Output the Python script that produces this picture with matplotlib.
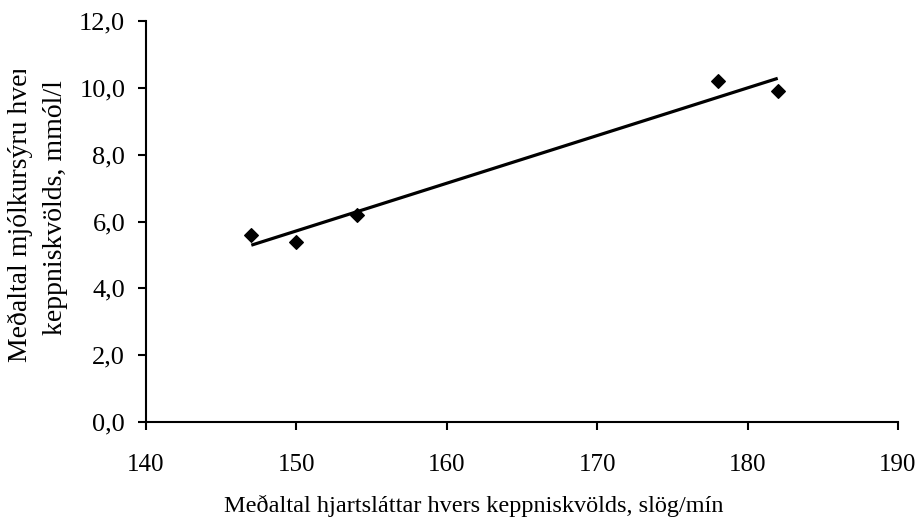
import matplotlib.pyplot as plt
import numpy as np
from matplotlib.ticker import FuncFormatter
from matplotlib.transforms import Bbox

# Mean heart rate and mean lactate per competition evening
heart_rate = [147, 150, 154, 178, 182]
lactate = [5.6, 5.4, 6.2, 10.2, 9.9]

x_ticks = [140, 150, 160, 170, 180, 190]
y_ticks = [0, 2, 4, 6, 8, 10, 12]

plt.rcParams['font.family'] = ['Liberation Serif', 'DejaVu Serif']
plt.rcParams['font.size'] = 19

fig = plt.figure(figsize=(9.19, 5.19), dpi=100)
ax = fig.add_axes([0.1589, 0.1869, 0.8183, 0.7726])

ax.scatter(heart_rate, lactate, marker='D', s=48, color='black', zorder=3)

# linear trend line over the range of the data
slope, intercept = np.polyfit(heart_rate, lactate, 1)
xs = np.array([min(heart_rate), max(heart_rate)])
ax.plot(xs, slope * xs + intercept, color='black', lw=2.3, solid_capstyle='butt')

ax.set_xlim(140, 190)
ax.set_ylim(0, 12)
ax.set_xticks(x_ticks)
ax.set_yticks(y_ticks)
ax.yaxis.set_major_formatter(FuncFormatter(lambda v, p: f"{v:.1f}".replace('.', ',')))

for side in ['top', 'right']:
    ax.spines[side].set_visible(False)
for side in ['left', 'bottom']:
    ax.spines[side].set_linewidth(1.5)
ax.tick_params(width=1.5, length=6, direction='out')
ax.tick_params(axis='y', pad=9, labelsize=19)
ax.tick_params(axis='x', pad=17, labelsize=18)

fig.text(0.516, 0.025, 'Meðaltal hjartsláttar hvers keppniskvölds, slög/mín',
         ha='center', va='center', fontsize=17.5)

# two-line y label; the first line runs off the top of its box
line1 = fig.text(20 / 919, 1 - 208 / 519, 'Meðaltal mjólkursýru hvers',
                 rotation=90, ha='center', va='center', fontsize=20)
line1.set_clip_box(Bbox.from_extents(0, 0, 919, 519 - 70))
fig.text(55 / 919, 1 - 208 / 519, 'keppniskvölds, mmól/l',
         rotation=90, ha='center', va='center', fontsize=20)

fig.savefig('out.png', dpi=100)
